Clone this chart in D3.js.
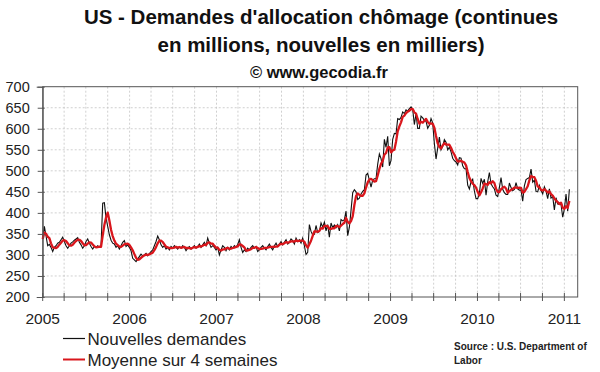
<!DOCTYPE html>
<html>
<head>
<meta charset="utf-8">
<script src="https://cdn.jsdelivr.net/npm/d3@7"></script>
<style>
  body { margin: 0; background: #fff; }
  svg { display: block; font-family: Arial, "Liberation Sans", sans-serif; }
</style>
</head>
<body>
<svg></svg>
<script>
// Weekly initial claims (thousands), week ending Saturday, from 1 Jan 2005
var claims2005 = [338, 368, 345, 322, 325, 318, 308, 318, 322, 328, 330, 336, 342, 332, 322, 316, 322, 328, 331, 335,
                  338, 341, 330, 324, 316, 322, 332, 338, 328, 320, 314, 320, 318, 322, 318, 320, 423, 424, 388, 368,
                  348, 335, 328, 326, 318, 322, 314, 322, 330, 334, 320, 324, 318];
var claims2006 = [310, 292, 288, 284, 290, 296, 302, 298, 300, 304, 298, 303, 308, 312, 322, 332, 345, 336, 324, 318,
                  322, 314, 318, 312, 320, 316, 322, 318, 314, 320, 316, 322, 318, 310, 316, 320, 314, 318, 322, 316,
                  320, 326, 318, 324, 330, 322, 340, 328, 318, 322, 318, 312];
var claims2007 = [318, 300, 312, 322, 318, 310, 318, 312, 320, 316, 322, 318, 325, 336, 318, 306, 312, 308, 316, 312,
                  318, 322, 316, 320, 308, 312, 318, 322, 316, 312, 320, 326, 318, 312, 322, 328, 320, 326, 332, 324,
                  330, 336, 326, 330, 338, 334, 326, 340, 332, 336, 328, 340];
var claims2008 = [322, 301, 306, 372, 356, 348, 349, 370, 353, 356, 376, 366, 378, 357, 372, 342, 376, 365, 371, 365,
                  372, 357, 384, 381, 384, 404, 346, 366, 406, 448, 455, 450, 432, 435, 445, 451, 455, 490, 494, 478,
                  461, 478, 481, 481, 516, 540, 529, 509, 575, 556, 582, 512];
var claims2009 = [525, 575, 589, 588, 624, 622, 627, 640, 636, 645, 642, 648, 652, 646, 610, 636, 601, 601, 630, 626,
                  620, 618, 601, 608, 624, 614, 565, 528, 554, 580, 550, 558, 574, 568, 550, 556, 545, 530, 524, 521,
                  514, 531, 530, 512, 505, 505, 466, 457, 474, 480, 452, 434];
var claims2010 = [434, 446, 482, 470, 480, 442, 474, 496, 469, 462, 457, 442, 439, 460, 484, 456, 448, 444, 444, 471,
                  460, 453, 456, 472, 457, 454, 454, 428, 464, 479, 482, 484, 504, 473, 478, 451, 450, 465, 453, 445,
                  462, 452, 434, 457, 435, 439, 407, 436, 421, 420, 420, 390];
var claims2011 = [409, 445, 404, 456];

var firstWeek = new Date(2005, 0, 1);
var yTicks = [200, 250, 300, 350, 400, 450, 500, 550, 600, 650, 700];
var yearTicks = [2005, 2006, 2007, 2008, 2009, 2010, 2011];
var titleLines = ["US - Demandes d'allocation chômage (continues", "en millions, nouvelles en milliers)"];
var subtitle = "© www.gecodia.fr";
var seriesNames = ["Nouvelles demandes", "Moyenne sur 4 semaines"];
var sourceLines = ["Source : U.S. Department of", "Labor"];

var weekly = [].concat(claims2005, claims2006, claims2007, claims2008, claims2009, claims2010, claims2011);
var data = weekly.map(function(v, i) {
    return {date: d3.timeDay.offset(firstWeek, 7 * i), value: v};
});
// 4 week moving average of the weekly figures
data.forEach(function(d, i) {
    d.avg = d3.mean(weekly.slice(Math.max(0, i - 3), i + 1));
});

var width = 600, height = 372;
var plot = {left: 42.7, right: 577.7, top: 86.7, bottom: 297};

var svg = d3.select("svg").attr("width", width).attr("height", height);
svg.append("rect").attr("width", width).attr("height", height).attr("fill", "#fff");

var x = d3.scaleTime()
    .domain([firstWeek, new Date(2011, 1, 26)])
    .range([plot.left, plot.right]);
var y = d3.scaleLinear().domain([200, 700]).range([plot.bottom, plot.top]);

// Grid
var quarters = d3.timeMonth.every(3).range(firstWeek, new Date(2011, 1, 27));
svg.append("g").selectAll("line").data(quarters.slice(1)).enter().append("line")
    .attr("x1", d => x(d)).attr("x2", d => x(d))
    .attr("y1", plot.top).attr("y2", plot.bottom)
    .attr("stroke", "#c4c4c4").attr("stroke-width", 0.8).attr("stroke-dasharray", "2,2");
svg.append("g").selectAll("line").data(yTicks.slice(1, -1)).enter().append("line")
    .attr("x1", plot.left).attr("x2", plot.right)
    .attr("y1", d => y(d)).attr("y2", d => y(d))
    .attr("stroke", "#c4c4c4").attr("stroke-width", 0.8).attr("stroke-dasharray", "2,2");

// Frame
svg.append("rect")
    .attr("x", plot.left).attr("y", plot.top)
    .attr("width", plot.right - plot.left).attr("height", plot.bottom - plot.top)
    .attr("fill", "none").attr("stroke", "#555").attr("stroke-width", 1);

// Lines
var lineWeekly = d3.line().x(d => x(d.date)).y(d => y(d.value));
var lineAvg = d3.line().x(d => x(d.date)).y(d => y(d.avg));
svg.append("path").datum(data).attr("d", lineWeekly)
    .attr("fill", "none").attr("stroke", "#111").attr("stroke-width", 1.1);
svg.append("path").datum(data).attr("d", lineAvg)
    .attr("fill", "none").attr("stroke", "#d9161c").attr("stroke-width", 2.3)
    .attr("stroke-linejoin", "round");

// Y axis
var yAxis = svg.append("g").attr("transform", `translate(${plot.left},0)`)
    .call(d3.axisLeft(y).tickValues(yTicks).tickSize(6).tickPadding(7));
yAxis.select(".domain").attr("stroke", "#555");
yAxis.selectAll(".tick line").attr("stroke", "#555").attr("x2", -5).attr("x1", 2);
yAxis.selectAll("text").attr("font-size", 14.5).attr("fill", "#222")
    .attr("font-family", "Arial, 'Liberation Sans', sans-serif");

// X axis
var xAxis = svg.append("g").attr("transform", `translate(0,${plot.bottom})`);
xAxis.selectAll("line.minor").data(quarters).enter().append("line")
    .attr("class", "minor")
    .attr("x1", d => x(d)).attr("x2", d => x(d))
    .attr("y1", -4).attr("y2", 4)
    .attr("stroke", "#555");
xAxis.selectAll("text").data(yearTicks).enter().append("text")
    .attr("x", d => x(new Date(d, 0, 1)))
    .attr("y", 26.5)
    .attr("text-anchor", "middle")
    .attr("font-size", 15.5).attr("fill", "#222")
    .text(d => d);

// Title
svg.selectAll("text.title").data(titleLines).enter().append("text")
    .attr("class", "title")
    .attr("x", 321).attr("y", (d, i) => 24 + i * 28)
    .attr("text-anchor", "middle")
    .attr("font-size", 20.5).attr("font-weight", "bold").attr("fill", "#111")
    .text(d => d);
svg.append("text")
    .attr("x", 319).attr("y", 77.5)
    .attr("text-anchor", "middle")
    .attr("font-size", 16.5).attr("font-weight", "bold").attr("fill", "#111")
    .text(subtitle);

// Legend
var legendColors = ["#111", "#d9161c"];
var legend = svg.selectAll("g.legend").data(seriesNames).enter().append("g")
    .attr("class", "legend")
    .attr("transform", (d, i) => `translate(63,${338.5 + i * 21})`);
legend.append("line").attr("x1", 0).attr("x2", 22)
    .attr("stroke", (d, i) => legendColors[i]).attr("stroke-width", (d, i) => i ? 2 : 1.2);
legend.append("text").attr("x", 24.5).attr("y", 6)
    .attr("font-size", 17).attr("fill", "#222")
    .text(d => d);

// Source
svg.selectAll("text.source").data(sourceLines).enter().append("text")
    .attr("class", "source")
    .attr("x", 454).attr("y", (d, i) => 349.5 + i * 14)
    .attr("font-size", 10).attr("font-weight", "bold").attr("fill", "#222")
    .text(d => d);
</script>
</body>
</html>
